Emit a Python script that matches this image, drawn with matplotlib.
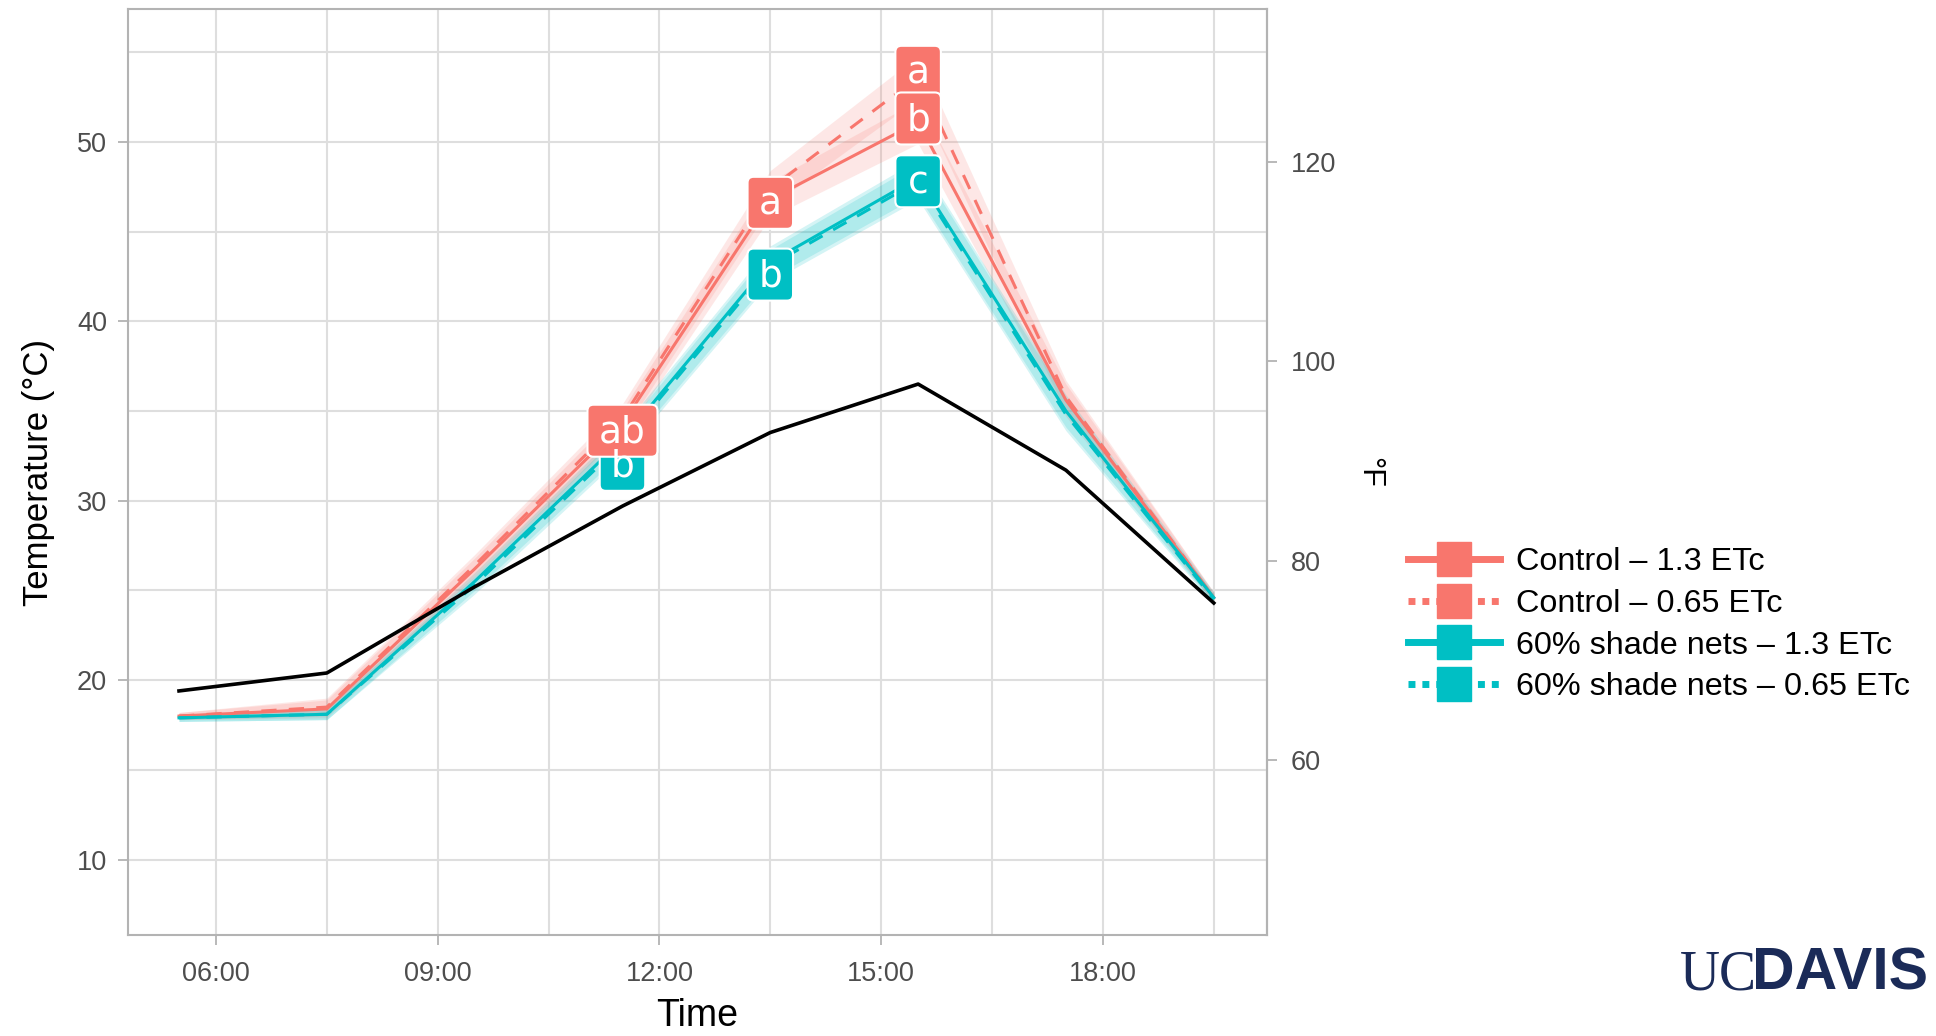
import numpy as np
import matplotlib
matplotlib.use("Agg")
import matplotlib.pyplot as plt
from matplotlib.lines import Line2D
from matplotlib.patches import FancyBboxPatch
from matplotlib.transforms import ScaledTranslation

plt.rcParams['font.family'] = ['Liberation Sans', 'DejaVu Sans']

# hours of day (decimal)
times = [5.5, 7.5, 9.5, 11.5, 13.5, 15.5, 17.5, 19.5]
ambient = [19.4, 20.4, 25.2, 29.7, 33.8, 36.5, 31.7, 24.3]
ctrl_13 = [18.0, 18.4, 26.2, 34.3, 46.8, 51.1, 35.6, 24.6]
ctrl_065 = [18.0, 18.5, 26.4, 34.6, 47.4, 53.6, 35.8, 24.6]
shade_13 = [17.9, 18.1, 25.5, 33.4, 43.3, 48.0, 35.0, 24.6]
shade_065 = [17.9, 18.1, 25.3, 33.2, 43.1, 47.8, 34.8, 24.5]
# ribbon half widths
err_ctrl = [0.2, 0.5, 0.6, 0.8, 1.0, 1.2, 0.9, 0.3]
err_shade = [0.2, 0.3, 0.5, 0.7, 0.9, 1.0, 0.9, 0.3]

series_names = ['Control – 1.3 ETc', 'Control – 0.65 ETc',
                '60% shade nets – 1.3 ETc', '60% shade nets – 0.65 ETc']

# letters of mean separation
lab_t = [11.5, 11.5, 13.5, 13.5, 15.5, 15.5, 15.5]
lab_v = [32.0, 33.9, 42.6, 46.6, 53.9, 51.3, 47.8]
lab_s = ['b', 'ab', 'b', 'a', 'a', 'b', 'c']
lab_grp = ['shade', 'ctrl', 'shade', 'ctrl', 'ctrl', 'ctrl', 'shade']

xticks = [6, 9, 12, 15, 18]
xticklabels = ['06:00', '09:00', '12:00', '15:00', '18:00']
yticks = [10, 20, 30, 40, 50]
fticks = [60, 80, 100, 120]

RED = '#F8766D'
TEAL = '#00BFC4'
cols = {'ctrl': RED, 'shade': TEAL}

fig = plt.figure(figsize=(19.36, 10.36), dpi=100)
ax = fig.add_axes([128/1936, 101/1036, (1267-128)/1936, (1027-101)/1036])
ax.set_xlim(4.81, 20.22)
ax.set_ylim(5.8, 57.4)

t = np.array(times)
for vals, err, c in [(ctrl_13, err_ctrl, RED), (ctrl_065, err_ctrl, RED),
                     (shade_13, err_shade, TEAL), (shade_065, err_shade, TEAL)]:
    v = np.array(vals); e = np.array(err)
    ax.fill_between(t, v - e, v + e, color=c, alpha=0.17, lw=0)

ax.plot(t, ctrl_13, color=RED, lw=2.2)
ax.plot(t, ctrl_065, color=RED, lw=2.2, dashes=(5, 4))
ax.plot(t, shade_13, color=TEAL, lw=2.2)
ax.plot(t, shade_065, color=TEAL, lw=2.2, dashes=(5, 4))
ax.plot(t, ambient, color='black', lw=2.6, zorder=3)

# labels as rounded boxes
for x, y, s, g in zip(lab_t, lab_v, lab_s, lab_grp):
    w = 0.21 + 0.245 * len(s)
    h = 0.52
    tr = fig.dpi_scale_trans + ScaledTranslation(x, y, ax.transData)
    box = FancyBboxPatch((-w/2, -h/2), w, h, boxstyle='round,pad=0,rounding_size=0.06',
                         transform=tr, fc=cols[g], ec='white', lw=1.5, zorder=5)
    ax.add_patch(box)
    ax.annotate(s, (x, y), xytext=(0, -8.5), textcoords='offset points',
                ha='center', va='baseline', color='white', fontsize=27,
                family='DejaVu Sans', zorder=6)

# grid / theme
ax.set_xticks(xticks)
ax.set_xticklabels(xticklabels)
ax.set_xticks([7.5, 10.5, 13.5, 16.5, 19.5], minor=True)
ax.set_yticks(yticks)
ax.set_yticks([15, 25, 35, 45, 55], minor=True)
ax.grid(True, which='both', color='#DEDEDE', lw=1.5)
ax.set_axisbelow(True)
for sp in ax.spines.values():
    sp.set_color('#B3B3B3')
    sp.set_linewidth(1.5)
ax.tick_params(which='major', length=7, width=1.3, color='#B3B3B3',
               labelsize=19.5, labelcolor='#4D4D4D', pad=8)
ax.tick_params(which='minor', length=0)
ax.tick_params(axis='x', pad=12)

ax.set_xlabel('Time', fontsize=27, labelpad=8)
ax.set_ylabel('Temperature (°C)', fontsize=25, labelpad=16)

sec = ax.secondary_yaxis('right', functions=(lambda c: c * 9 / 5 + 32,
                                               lambda f: (f - 32) * 5 / 9))
sec.set_yticks(fticks)
sec.spines['right'].set_color('#B3B3B3')
sec.spines['right'].set_linewidth(1.5)
sec.tick_params(length=7, width=1.3, color='#B3B3B3', labelsize=19.5,
                labelcolor='#4D4D4D', pad=10)
sec.set_ylabel('°F', fontsize=22, rotation=-90, labelpad=24, va='center')

handles = [
    Line2D([], [], color=RED, lw=5, marker='s', markersize=25),
    Line2D([], [], color=RED, lw=5, ls=(0, (1, 1)), marker='s', markersize=25),
    Line2D([], [], color=TEAL, lw=5, marker='s', markersize=25),
    Line2D([], [], color=TEAL, lw=5, ls=(0, (1, 1)), marker='s', markersize=25),
]
fig.legend(handles, series_names, loc='center left', bbox_to_anchor=(1408/1936, 0.397),
           frameon=False, fontsize=23.3, handlelength=2.85, handletextpad=0.5,
           labelspacing=0.36, borderpad=0, borderaxespad=0)

# logo text
fig.text(1680/1936, 0.045, 'UC', family='Liberation Serif', fontsize=40,
         color='#1B2B58', va='baseline', ha='left')
fig.text(1752/1936, 0.045, 'DAVIS', family='Liberation Sans', fontweight='bold',
         fontsize=42.5, color='#1B2B58', va='baseline', ha='left')

fig.savefig('out.png', dpi=100)
